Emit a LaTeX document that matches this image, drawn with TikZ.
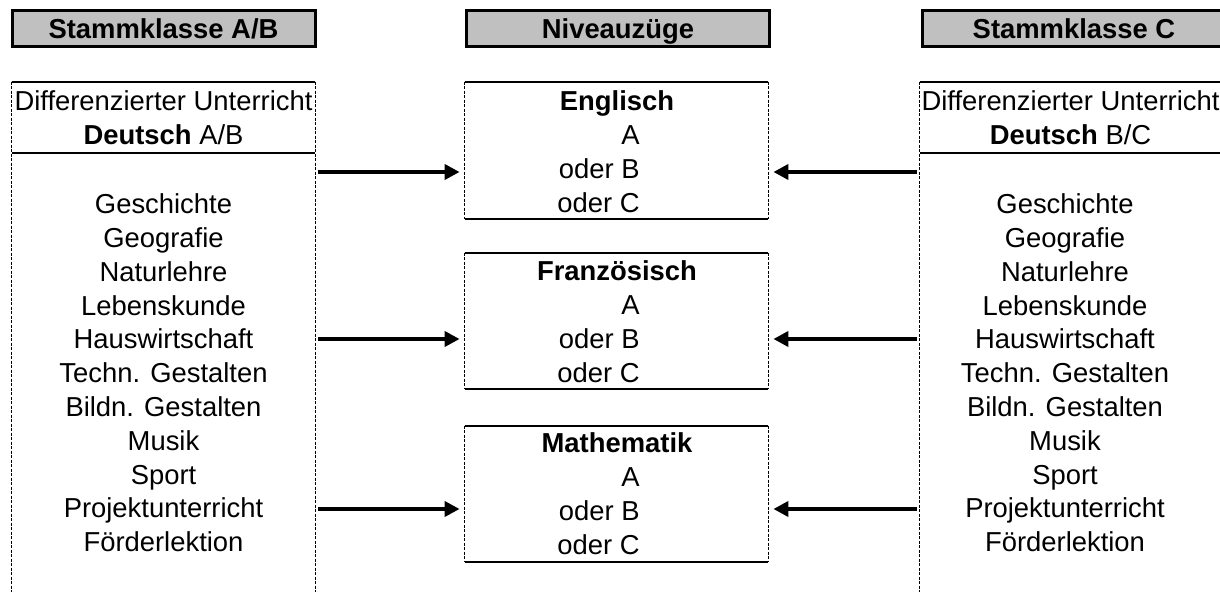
\documentclass[tikz,border=0pt]{standalone}
\usepackage{fontspec}
\setmainfont{Liberation Sans}
\usetikzlibrary{arrows.meta}
\definecolor{headgray}{RGB}{192,192,192}
\newcommand{\diafont}{\fontsize{13.7}{16.9}\selectfont}

\begin{document}
\begin{tikzpicture}[x=0.5pt,y=-0.5pt,font=\diafont]

\tikzset{head/.style = {draw,line width=1.5pt,fill=headgray,minimum width=151.5pt,minimum height=18pt,inner sep=0pt,text depth=0pt,font=\diafont\bfseries}}
\tikzset{frame/.style = {shape=rectangle,minimum width=151.5pt,inner sep=0pt}}
\tikzset{txt/.style = {inner sep=0pt,align=center}}
\tikzset{title/.style = {inner sep=0pt,text depth=0pt,font=\diafont\bfseries}}
\tikzset{solidline/.style = {line width=1pt}}
\tikzset{dashline/.style = {line width=0.5pt,dash pattern=on 1.5pt off 0.75pt}}
\tikzset{arrow/.style = {line width=2pt,-{Triangle[length=7.5pt,width=7.5pt]},shorten <=1.5pt,shorten >=2.5pt}}

\useasboundingbox (0,0) rectangle (1220,592);

% headers
\node[head] (hAB) at (163.5,29) {Stammklasse A/B};
\node[head] (hNiv) at (618,29) {Niveauzüge};
\node[head] (hC) at (1074,29) {Stammklasse C};

% columns
\node[frame,minimum height=262pt] (colAB) at (163.5,344) {};
\node[frame,minimum height=262pt] (colC) at (1071.5,344) {};
\coordinate (div) at (0,153);
\draw[solidline] (colAB.north west) -- (colAB.north east);
\draw[solidline] (colAB.west |- div) -- (colAB.east |- div);
\draw[dashline] (colAB.north west) -- (colAB.south west);
\draw[dashline] (colAB.north east) -- (colAB.south east);
\draw[solidline] (colC.north west) -- (colC.north east);
\draw[solidline] (colC.west |- div) -- (colC.east |- div);
\draw[dashline] (colC.north west) -- (colC.south west);
\draw[dashline] (colC.north east) -- (colC.south east);

\node[txt] (dAB) at (163.5,117.5) {Differenzierter Unterricht\\\textbf{Deutsch} A/B};
\node[txt] (dC) at (1070.5,117.5) {Differenzierter Unterricht\\\textbf{Deutsch} B/C};
\node[txt] (fAB) at (163.5,373) {Geschichte\\Geografie\\Naturlehre\\Lebenskunde\\Hauswirtschaft\\Techn. Gestalten\\Bildn. Gestalten\\Musik\\Sport\\Projektunterricht\\Förderlektion};
\node[txt] (fC) at (1065,373) {Geschichte\\Geografie\\Naturlehre\\Lebenskunde\\Hauswirtschaft\\Techn. Gestalten\\Bildn. Gestalten\\Musik\\Sport\\Projektunterricht\\Förderlektion};

% level courses
\node[frame,minimum height=68.5pt] (eng) at (616.5,150.5) {};
\node[frame,minimum height=68pt] (fra) at (616.5,321) {};
\node[frame,minimum height=68pt] (mat) at (616.5,494) {};
\foreach \b in {eng,fra,mat} {
  \draw[solidline] (\b.north west) -- (\b.north east);
  \draw[solidline] (\b.south west) -- (\b.south east);
  \draw[dashline] (\b.north west) -- (\b.south west);
  \draw[dashline] (\b.north east) -- (\b.south east);
}
\node[title] (engT) at (617,101) {Englisch};
\node[txt,align=right,anchor=east] (engL) at (640,169) {A\\oder B\\oder C};
\node[title] (fraT) at (617,271) {Französisch};
\node[txt,align=right,anchor=east] (fraL) at (640,339) {A\\oder B\\oder C};
\node[title] (matT) at (617,443) {Mathematik};
\node[txt,align=right,anchor=east] (matL) at (640,511) {A\\oder B\\oder C};

%edges
\coordinate (r1) at (0,172);
\coordinate (r2) at (0,339);
\coordinate (r3) at (0,509);
\draw[arrow] (colAB.east |- r1) -- (eng.west |- r1);
\draw[arrow] (colAB.east |- r2) -- (fra.west |- r2);
\draw[arrow] (colAB.east |- r3) -- (mat.west |- r3);
\draw[arrow] (colC.west |- r1) -- (eng.east |- r1);
\draw[arrow] (colC.west |- r2) -- (fra.east |- r2);
\draw[arrow] (colC.west |- r3) -- (mat.east |- r3);
\end{tikzpicture}
\end{document}
